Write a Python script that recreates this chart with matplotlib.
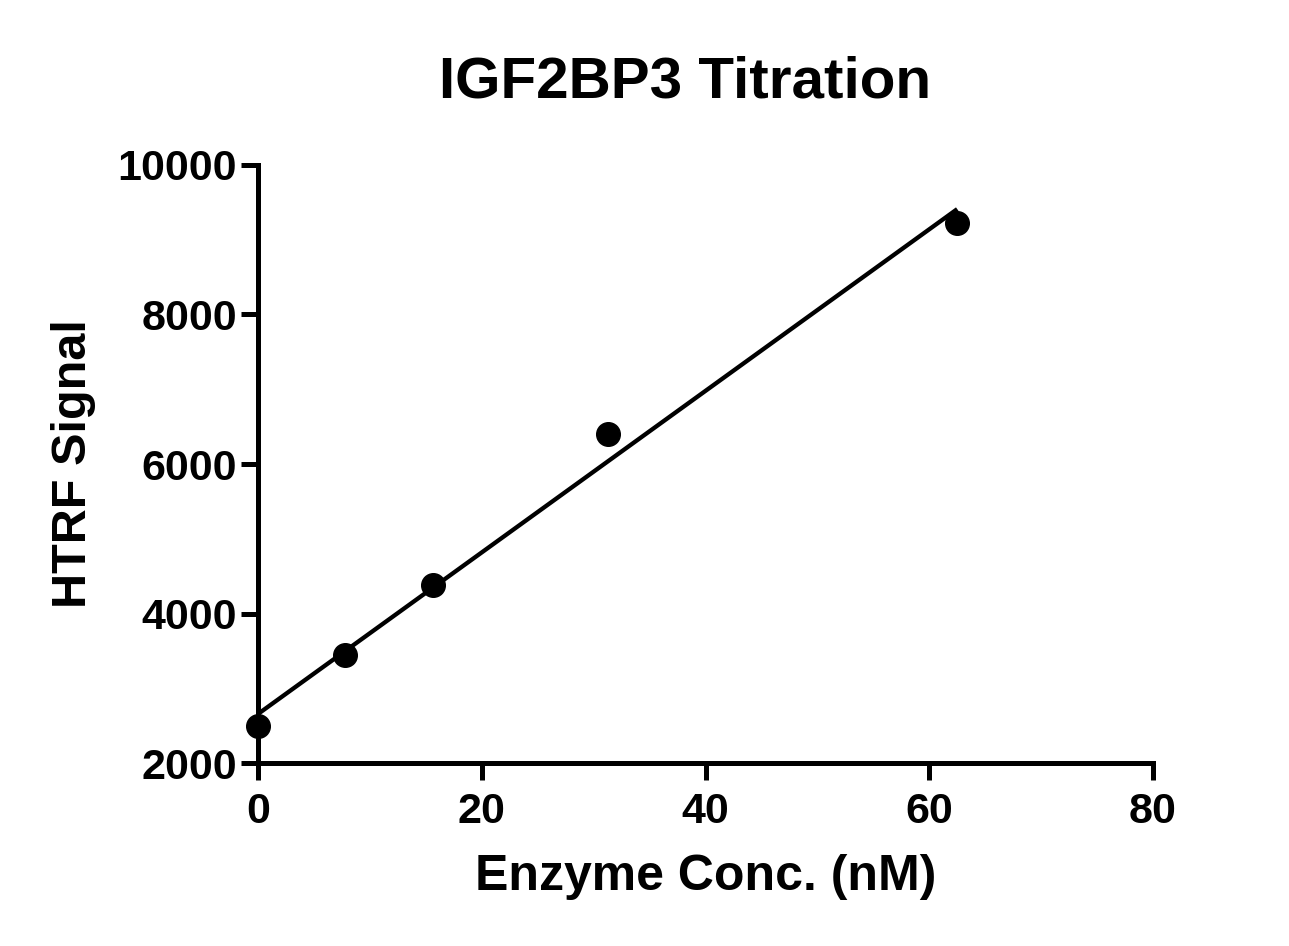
import numpy as np
import matplotlib
matplotlib.use("Agg")
import matplotlib.pyplot as plt

# dados
conc = [0, 7.8125, 15.625, 31.25, 62.5]      # Enzyme Conc. (nM)
sinal = [2495, 3445, 4381, 6401, 9224]       # HTRF Signal
xticks = [0, 20, 40, 60, 80]
yticks = [2000, 4000, 6000, 8000, 10000]

plt.rcParams['font.family'] = ['Liberation Sans', 'DejaVu Sans']
plt.rcParams['font.weight'] = 'bold'

fig = plt.figure(figsize=(12.89, 9.46), dpi=100)
ax = fig.add_axes([0.2002, 0.1934, 0.6943, 0.6322])

# regressao linear
a, b = np.polyfit(conc, sinal, 1)
xf = np.array([min(conc), max(conc)])
ax.plot(xf, a * xf + b, color='black', lw=3.1, solid_capstyle='butt', zorder=2)
ax.plot(conc, sinal, 'o', color='black', ms=17, clip_on=False, zorder=3)

ax.set_xlim(0, 80)
ax.set_ylim(2000, 10000)
ax.set_xticks(xticks)
ax.set_yticks(yticks)

for s in ['top', 'right']:
    ax.spines[s].set_visible(False)
for s in ['left', 'bottom']:
    ax.spines[s].set_linewidth(3.6)
ax.tick_params(axis='both', direction='out', length=12, width=3.6, labelsize=31)
ax.tick_params(axis='x', pad=9)
ax.tick_params(axis='y', pad=3)
for lab in ax.get_xticklabels() + ax.get_yticklabels():
    lab.set_fontweight('bold')

ax.set_xlabel("Enzyme Conc. (nM)", fontsize=36, fontweight='bold', labelpad=16)
ax.set_ylabel("HTRF Signal", fontsize=35, fontweight='bold', labelpad=16)
fig.text(685 / 1289, 1 - 97 / 946, "IGF2BP3 Titration", fontsize=42,
         fontweight='bold', ha='center', va='baseline')

fig.savefig("out.png", dpi=100)
